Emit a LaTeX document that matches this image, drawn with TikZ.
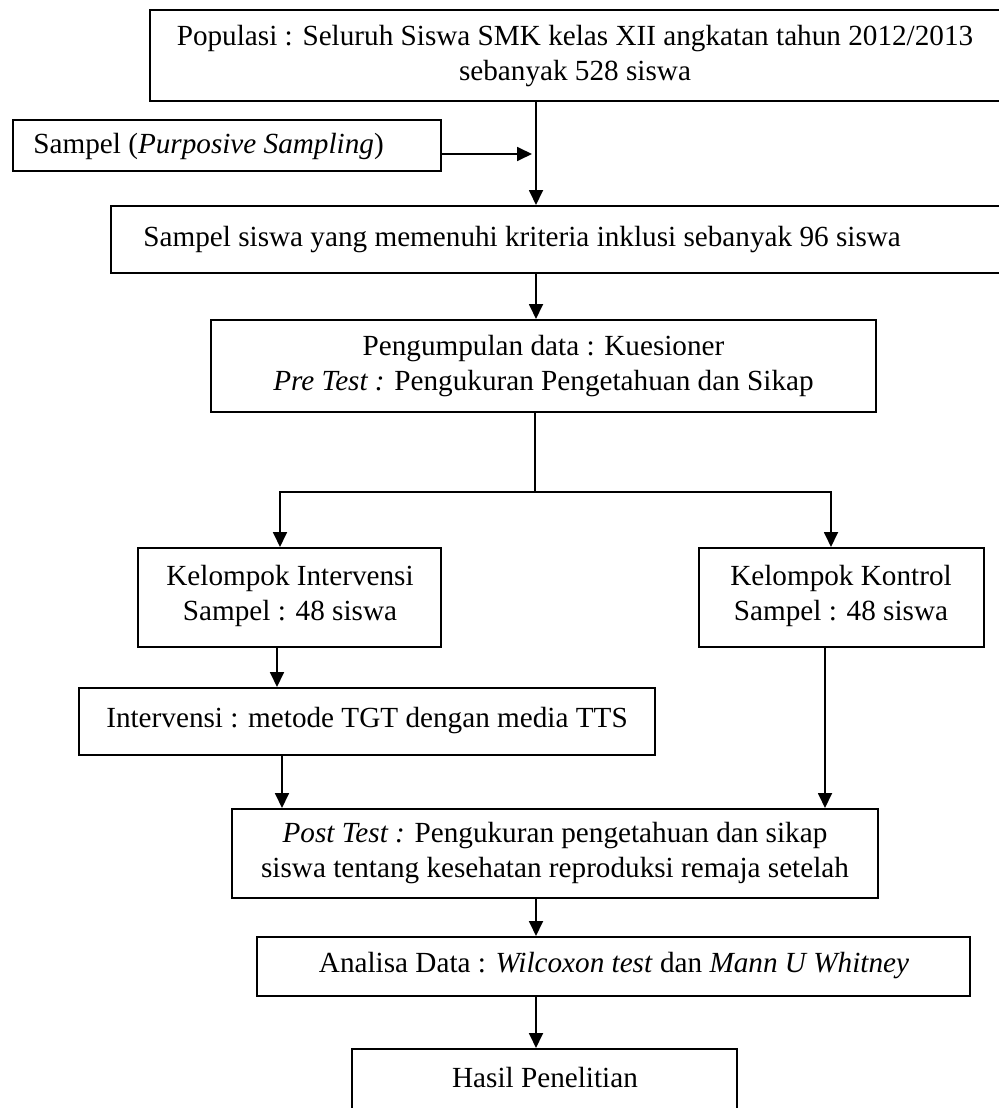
\documentclass[tikz,border=0pt]{standalone}
\usepackage{fontspec}
\setmainfont{Liberation Serif}
\usetikzlibrary{arrows.meta,fit}
\begin{document}
\begin{tikzpicture}[x=0.5pt,y=-0.5pt,
  box/.style={draw, line width=1pt, inner sep=0pt},
  txt/.style={font=\fontsize{14.6}{17.25}\selectfont, align=center, inner sep=0pt},
  lin/.style={line width=0.9pt},
  arr/.style={line width=0.9pt, -{Triangle[length=7.5pt,width=7pt]}}]
\useasboundingbox (0,0) rectangle (999,1108);
% boxes
\node[box, fit={(150,10) (1010,101)}] (pop) {};
\node[box, fit={(13,120) (441,171)}] (ps) {};
\node[box, fit={(111,206) (1010,273)}] (crit) {};
\node[box, fit={(211,320) (876,412)}] (pre) {};
\node[box, fit={(138,548) (441,647)}] (ki) {};
\node[box, fit={(699,548) (984,647)}] (kk) {};
\node[box, fit={(79,688) (655,755)}] (iv) {};
\node[box, fit={(232,809) (878,898)}] (post) {};
\node[box, fit={(257,937) (970,996)}] (an) {};
\node[box, fit={(352,1049) (737,1125)}] (has) {};
% texts
\node[txt] (poptxt) at (575,56) {Populasi : Seluruh Siswa SMK kelas XII angkatan tahun 2012/2013\\sebanyak 528 siswa};
\node[txt, anchor=west] (pstxt) at (33,146) {Sampel (\textit{Purposive Sampling})};
\node[txt, anchor=west] (crittxt) at (143,240) {Sampel siswa yang memenuhi kriteria inklusi sebanyak 96 siswa};
\node[txt] (pretxt) at (543.5,366) {Pengumpulan data : Kuesioner\\\textit{Pre Test :} Pengukuran Pengetahuan dan Sikap};
\node[txt] (kitxt) at (290,596) {Kelompok Intervensi\\Sampel : 48 siswa};
\node[txt] (kktxt) at (841,596) {Kelompok Kontrol\\Sampel : 48 siswa};
\node[txt] (ivtxt) at (367,721) {Intervensi : metode TGT dengan media TTS};
\node[txt] (posttxt) at (555,853) {\textit{Post Test :} Pengukuran pengetahuan dan sikap\\siswa tentang kesehatan reproduksi remaja setelah};
\node[txt] (antxt) at (614,966) {Analisa Data : \textit{Wilcoxon test} dan \textit{Mann U Whitney}};
\node[txt, anchor=base] (hastxt) at (545,1087) {Hasil Penelitian};
% connectors
\coordinate (spine) at (536,0);
\coordinate (psend) at (532,154);
\draw[arr] (ps.east |- psend) -- (psend);
\draw[arr] (pop.south -| spine) -- (crit.north -| spine);
\draw[arr] (crit.south -| spine) -- (pre.north -| spine);
\coordinate (split) at (535,492);
\coordinate (lx) at (280,0);
\coordinate (rx) at (831,0);
\draw[lin] (pre.south -| split) -- (split);
\draw[arr] (split) -| (ki.north -| lx);
\draw[arr] (split) -| (kk.north -| rx);
\coordinate (kix) at (277,0);
\draw[arr] (ki.south -| kix) -- (iv.north -| kix);
\coordinate (ivx) at (282,0);
\draw[arr] (iv.south -| ivx) -- (post.north -| ivx);
\coordinate (kkx) at (825,0);
\draw[arr] (kk.south -| kkx) -- (post.north -| kkx);
\draw[arr] (post.south -| spine) -- (an.north -| spine);
\draw[arr] (an.south -| spine) -- (has.north -| spine);
\end{tikzpicture}
\end{document}
